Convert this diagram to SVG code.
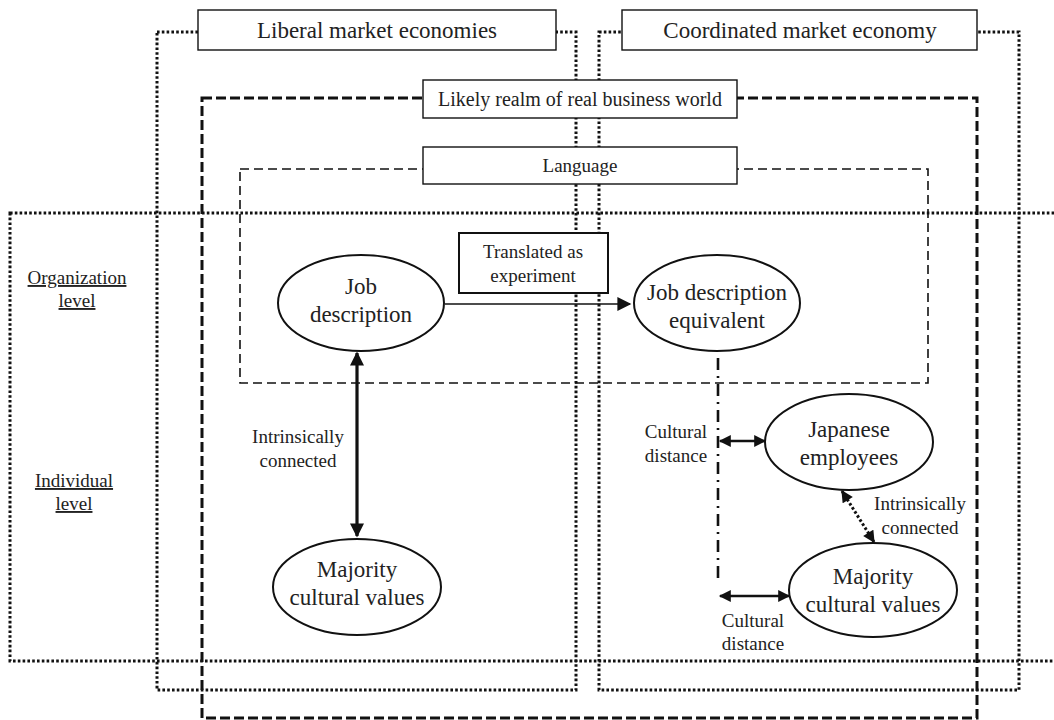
<svg xmlns="http://www.w3.org/2000/svg" width="1054" height="720" viewBox="0 0 1054 720">
  <defs>
    <style>
      text { font-family: "Liberation Serif", "DejaVu Serif", serif; fill: #222; text-anchor: middle; }
      .dotted { fill: none; stroke: #111; stroke-width: 3; stroke-dasharray: 2.6 2.2; }
      .realm { fill: none; stroke: #111; stroke-width: 3; stroke-dasharray: 10 4; }
      .lang { fill: none; stroke: #111; stroke-width: 1.6; stroke-dasharray: 9 5; }
      .label { fill: #fff; stroke: #111; stroke-width: 1.4; }
      .node { fill: #fff; stroke: #111; stroke-width: 2; }
      .edge { fill: none; stroke: #111; }
      .t23 { font-size: 23px; }
      .t20 { font-size: 20px; }
      .t19 { font-size: 19px; }
      .u { text-decoration: underline; }
    </style>
    <marker id="tri" viewBox="0 0 10 10" refX="9" refY="5" markerUnits="userSpaceOnUse" markerWidth="15" markerHeight="14" orient="auto-start-reverse">
      <path d="M0,0 L10,5 L0,10 z" fill="#111"/>
    </marker>
    <marker id="triS" viewBox="0 0 10 10" refX="9" refY="5" markerUnits="userSpaceOnUse" markerWidth="13" markerHeight="12" orient="auto-start-reverse">
      <path d="M0,0 L10,5 L0,10 z" fill="#111"/>
    </marker>
  </defs>

  <rect width="1054" height="720" fill="#fff"/>

  <!-- Level frame (organization / individual) -->
  <g id="levels">
    <rect class="dotted" x="10" y="213" width="1070" height="448"/>
    <text class="t19 u" x="77" y="284">Organization</text>
    <text class="t19 u" x="77" y="307">level</text>
    <text class="t19 u" x="74" y="487">Individual</text>
    <text class="t19 u" x="74" y="510">level</text>
  </g>

  <!-- Liberal market economies frame -->
  <g id="lme">
    <rect class="dotted" x="157" y="32" width="419" height="658"/>
  </g>

  <!-- Coordinated market economy frame -->
  <g id="cme">
    <rect class="dotted" x="599" y="32" width="420" height="658"/>
  </g>

  <!-- Real business world frame -->
  <g id="realm">
    <rect class="realm" x="202" y="98" width="775" height="620"/>
  </g>

  <!-- Language frame -->
  <g id="language">
    <rect class="lang" x="240" y="169" width="688" height="214"/>
  </g>

  <!-- Frame titles -->
  <g id="lme-title">
    <rect class="label" x="198" y="10" width="358" height="40"/>
    <text class="t23" x="377" y="38">Liberal market economies</text>
  </g>
  <g id="cme-title">
    <rect class="label" x="622" y="10" width="355" height="40"/>
    <text class="t23" x="800" y="38">Coordinated market economy</text>
  </g>
  <g id="realm-title">
    <rect class="label" x="423" y="80" width="314" height="38"/>
    <text class="t20" x="580" y="106">Likely realm of real business world</text>
  </g>
  <g id="language-title">
    <rect class="label" x="423" y="147" width="314" height="37"/>
    <text class="t19" x="580" y="172">Language</text>
  </g>

  <!-- Connectors -->
  <g id="connectors">
    <line class="edge" x1="445" y1="304" x2="630" y2="304" stroke-width="1.6" marker-end="url(#tri)"/>
    <line class="edge" x1="357" y1="353" x2="357" y2="536" stroke-width="3.2" marker-start="url(#tri)" marker-end="url(#tri)"/>
    <line class="edge" x1="718" y1="358" x2="718" y2="582" stroke-width="2.6" stroke-dasharray="12 6 2 6"/>
    <line class="edge" x1="720" y1="441" x2="765" y2="441" stroke-width="2.4" marker-start="url(#triS)" marker-end="url(#triS)"/>
    <line class="edge" x1="720" y1="596" x2="789" y2="596" stroke-width="2.4" marker-start="url(#triS)" marker-end="url(#triS)"/>
    <line class="edge" x1="842" y1="491" x2="874" y2="542" stroke-width="3" stroke-dasharray="2.6 2.2" marker-start="url(#triS)" marker-end="url(#triS)"/>
    <text class="t19" x="298" y="443">Intrinsically</text>
    <text class="t19" x="298" y="467">connected</text>
    <text class="t19" x="676" y="438">Cultural</text>
    <text class="t19" x="676" y="462">distance</text>
    <text class="t19" x="753" y="627">Cultural</text>
    <text class="t19" x="753" y="650">distance</text>
    <text class="t19" x="920" y="510">Intrinsically</text>
    <text class="t19" x="920" y="534">connected</text>
  </g>

  <!-- Nodes -->
  <g id="translated">
    <rect class="node" x="459" y="233" width="149" height="60" stroke-width="1.8"/>
    <text class="t19" x="533" y="258">Translated as</text>
    <text class="t19" x="533" y="282">experiment</text>
  </g>
  <g id="job-description">
    <ellipse class="node" cx="361" cy="303" rx="83" ry="48"/>
    <text class="t23" x="361" y="294">Job</text>
    <text class="t23" x="361" y="322">description</text>
  </g>
  <g id="job-description-equivalent">
    <ellipse class="node" cx="717" cy="303" rx="83" ry="48"/>
    <text class="t23" x="717" y="300">Job description</text>
    <text class="t23" x="717" y="328">equivalent</text>
  </g>
  <g id="majority-lme">
    <ellipse class="node" cx="357" cy="587" rx="84" ry="48"/>
    <text class="t23" x="357" y="577">Majority</text>
    <text class="t23" x="357" y="605">cultural values</text>
  </g>
  <g id="japanese-employees">
    <ellipse class="node" cx="849" cy="442" rx="84" ry="48"/>
    <text class="t23" x="849" y="437">Japanese</text>
    <text class="t23" x="849" y="465">employees</text>
  </g>
  <g id="majority-cme">
    <ellipse class="node" cx="873" cy="590" rx="84" ry="47"/>
    <text class="t23" x="873" y="584">Majority</text>
    <text class="t23" x="873" y="612">cultural values</text>
  </g>
</svg>
